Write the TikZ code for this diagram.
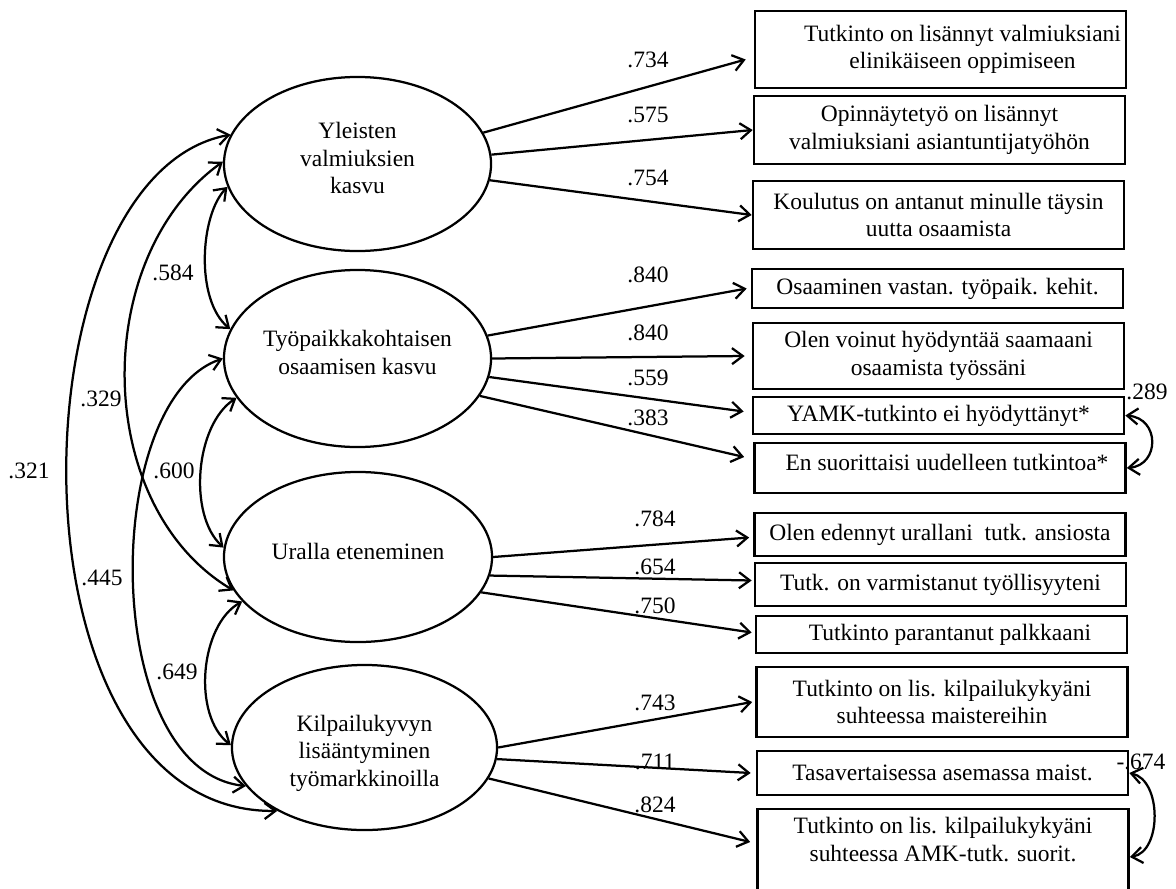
\documentclass[tikz,border=0pt]{standalone}
\usepackage{fontspec}
\setmainfont{Liberation Serif}
\usetikzlibrary{shapes.geometric,arrows.meta,calc}

\begin{document}
\begin{tikzpicture}[x=0.025cm,y=-0.025cm,
  every node/.style={font=\fontsize{16.7}{19.5}\selectfont},
  latent/.style={draw,ellipse,line width=1.6pt,inner sep=0pt,align=center},
  item/.style={draw,rectangle,line width=1.8pt,inner sep=2pt,align=center,minimum width=9.275cm},
  loading/.style={line width=1.6pt,-{Straight Barb[length=2.7mm,width=4mm]}},
  covar/.style={line width=1.6pt,{Straight Barb[length=2.7mm,width=4mm]}-{Straight Barb[length=2.7mm,width=4mm]}},
  coef/.style={inner sep=0pt}]
 \useasboundingbox (0,0) rectangle (1176,888);
 \clip (0,0) rectangle (1176,888);

 % factors
 \node[latent,minimum width=6.675cm,minimum height=4.35cm] (yleiset) at (357.5,164) {Yleisten\\valmiuksien\\kasvu\\[-11pt]\mbox{}};
 \node[latent,minimum width=6.675cm,minimum height=4.425cm] (tyopaikka) at (357.5,358.5) {Työpaikkakohtaisen\\osaamisen kasvu\\[-11pt]\mbox{}};
 \node[latent,minimum width=6.7cm,minimum height=4.25cm] (ura) at (358,557) {Uralla eteneminen\\[-11pt]\mbox{}};
 \node[latent,minimum width=6.625cm,minimum height=4.125cm] (kilpailu) at (364.5,747.5) {\mbox{}\\Kilpailukyvyn\\lisääntyminen\\työmarkkinoilla};

 % items
 \node[item,minimum height=1.925cm] (b1) at (940.5,49.5) {\hspace*{1.1cm}Tutkinto on lisännyt valmiuksiani\\\hspace*{1.1cm}elinikäiseen oppimiseen};
 \node[item,minimum height=1.7cm] (b2) at (939.5,130) {Opinnäytetyö on lisännyt\\valmiuksiani asiantuntijatyöhön};
 \node[item,minimum height=1.7cm] (b3) at (938.5,215) {Koulutus on antanut minulle täysin\\uutta osaamista};
 \node[item,minimum height=0.975cm] (b4) at (937.5,288.5) {Osaaminen vastan. työpaik. kehit.};
 \node[item,minimum height=1.65cm] (b5) at (938.5,356) {Olen voinut hyödyntää saamaani\\osaamista työssäni};
 \node[item,minimum height=0.925cm] (b6) at (938.5,415.5) {YAMK-tutkinto ei hyödyttänyt*};
 \node[item,minimum height=1.25cm] (b7) at (940,468) {\hspace*{0.35cm}En suorittaisi uudelleen tutkintoa*\\[-11pt]\mbox{}};
 \node[item,minimum height=1.075cm] (b8) at (940,534.5) {Olen edennyt urallani\ \ tutk. ansiosta};
 \node[item,minimum height=1.075cm] (b9) at (940.5,584.5) {Tutk. on varmistanut työllisyyteni};
 \node[item,minimum height=0.925cm] (b10) at (941.5,634.5) {\hspace*{0.42cm}Tutkinto parantanut palkkaani};
 \node[item,minimum height=1.75cm] (b11) at (942,702) {Tutkinto on lis. kilpailukykyäni\\suhteessa maistereihin};
 \node[item,minimum height=1.1cm] (b12) at (942.5,773) {Tasavertaisessa asemassa maist.};
 \node[item,minimum height=2.4cm] (b13) at (943,857) {Tutkinto on lis. kilpailukykyäni\\suhteessa AMK-tutk. suorit.\\\strut};

 % loadings
 \draw[loading] (yleiset.14) -- ($(b1.west)+(-8,10)$);
 \draw[loading] (yleiset.4) -- (b2.west);
 \draw[loading] (yleiset.353) -- (b3.west);
 \draw[loading] (tyopaikka.10) -- ($(b4.west)+(-4,0)$);
 \draw[loading] (tyopaikka.0) -- ($(b5.west)+(-7,0)$);
 \draw[loading] (tyopaikka.352) -- ($(b6.west)+(-8,-4)$);
 \draw[loading] (tyopaikka.343) -- ($(b7.west)+(-9,-11)$);
 \draw[loading] (ura.0) -- ($(b8.west)+(-4,3)$);
 \draw[loading] (ura.352) -- ($(b9.west)+(-2,-4)$);
 \draw[loading] (ura.344) -- ($(b10.west)+(-3,-2)$);
 \draw[loading] (kilpailu.0) -- ($(b11.west)+(-3,0)$);
 \draw[loading] (kilpailu.355) -- ($(b12.west)+(-5,0)$);
 \draw[loading] (kilpailu.346) -- ($(b13.west)+(-6,-15)$);

 \node[coef] (w1) at (648,60) {.734};
 \node[coef] (w2) at (648,115) {.575};
 \node[coef] (w3) at (648,178) {.754};
 \node[coef] (w4) at (648,275) {.840};
 \node[coef] (w5) at (648,333) {.840};
 \node[coef] (w6) at (648,378) {.559};
 \node[coef] (w7) at (648,418) {.383};
 \node[coef] (w8) at (655,519) {.784};
 \node[coef] (w9) at (655,567) {.654};
 \node[coef] (w10) at (655,606) {.750};
 \node[coef] (w11) at (655,703) {.743};
 \node[coef] (w12) at (655,762) {.711};
 \node[coef] (w13) at (655,805) {.824};

 % correlations
 \draw[covar] (yleiset.190) .. controls (200,215) and (195,300) .. (tyopaikka.167);
 \draw[covar] (tyopaikka.198) .. controls (195,425) and (188,515) .. (ura.176);
 \draw[covar] (ura.201) .. controls (200,625) and (192,715) .. (kilpailu.179);
 \draw[covar] (yleiset.179) .. controls (90,257) and (92,506) .. (ura.195);
 \draw[covar] (tyopaikka.180) .. controls (100,400) and (100,770) .. (kilpailu.198);
 \draw[covar] (yleiset.167) .. controls (10,175) and (0,814) .. (kilpailu.216);
 \draw[covar] (b6.east) .. controls (1160,418) and (1160,465) .. (b7.east);
 \draw[covar] (b12.east) .. controls (1162,780) and (1162,852) .. (b13.east);

 \node[coef] (r1) at (173,273) {.584};
 \node[coef] (r2) at (174,471) {.600};
 \node[coef] (r3) at (177,672) {.649};
 \node[coef] (r4) at (101,399) {.329};
 \node[coef] (r5) at (102,578) {.445};
 \node[coef] (r6) at (29,471) {.321};
 \node[coef] (r7) at (1147,392) {.289};
 \node[coef] (r8) at (1141,762) {-.674};
\end{tikzpicture}
\end{document}
